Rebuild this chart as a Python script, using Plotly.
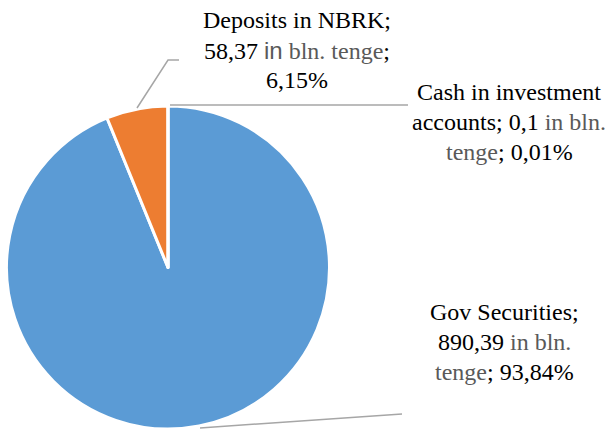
import plotly.graph_objects as go

# Data
categories = ["Gov Securities", "Deposits in NBRK", "Cash in investment accounts"]
values = [890.39, 58.37, 0.1]
value_text = ["890,39", "58,37", "0,1"]
percent_text = ["93,84%", "6,15%", "0,01%"]
colors = ["#5B9BD5", "#ED7D31", "#A5A5A5"]

W, H = 608, 429
GREY = "#595959"
FONT = "Liberation Serif"
unit = f"<span style='color:{GREY}'>in bln.</span>"
unit_t = f"<span style='color:{GREY}'>tenge</span>"
unit_sans = (f"<span style='color:{GREY};font-family:Liberation Sans'>in</span>"
             f" <span style='color:{GREY}'>bln.</span>")

fig = go.Figure(go.Pie(
    labels=categories, values=values, sort=False, direction="clockwise",
    rotation=0, textinfo="none", hoverinfo="label+value+percent",
    marker=dict(colors=colors, line=dict(color="white", width=3)),
    domain=dict(x=[6 / W, 330 / W], y=[0, (H - 106) / H]),
    showlegend=False,
))

label_lines = [
    (297, [f"{categories[1]};",
           f"{value_text[1]} {unit_sans} {unit_t};",
           f"{percent_text[1]}"], 20),
    (509, ["Cash in investment",
           f"accounts; {value_text[2]} {unit}",
           f"{unit_t}; {percent_text[2]}"], 92),
    (504, [f"{categories[0]};",
           f"{value_text[0]} {unit}",
           f"{unit_t}; {percent_text[0]}"], 312),
]
annotations = []
for cx, lines, y0 in label_lines:
    for i, t in enumerate(lines):
        annotations.append(dict(
            x=cx / W, y=1 - (y0 + i * 30) / H, xref="paper", yref="paper",
            text=t, showarrow=False, xanchor="center", yanchor="middle",
            font=dict(family=FONT, size=24, color="#000000"),
        ))

line_style = dict(color="#A6A6A6", width=1.5)
paths = [
    "M 137 108 L 168 60 L 179 60",
    "M 170 105 L 408 105",
    "M 200 428 L 402 414",
]

def conv(path):
    out = []
    toks = path.split()
    i = 0
    while i < len(toks):
        c = toks[i]
        x = float(toks[i + 1]) / W
        y = 1 - float(toks[i + 2]) / H
        out.append(f"{c} {x:.5f} {y:.5f}")
        i += 3
    return " ".join(out)

shapes = [dict(type="path", path=conv(p), line=line_style,
               xref="paper", yref="paper") for p in paths]

fig.update_layout(
    width=W, height=H, margin=dict(l=0, r=0, t=0, b=0),
    paper_bgcolor="white", plot_bgcolor="white",
    annotations=annotations, shapes=shapes,
)
fig.write_html("out.html")
